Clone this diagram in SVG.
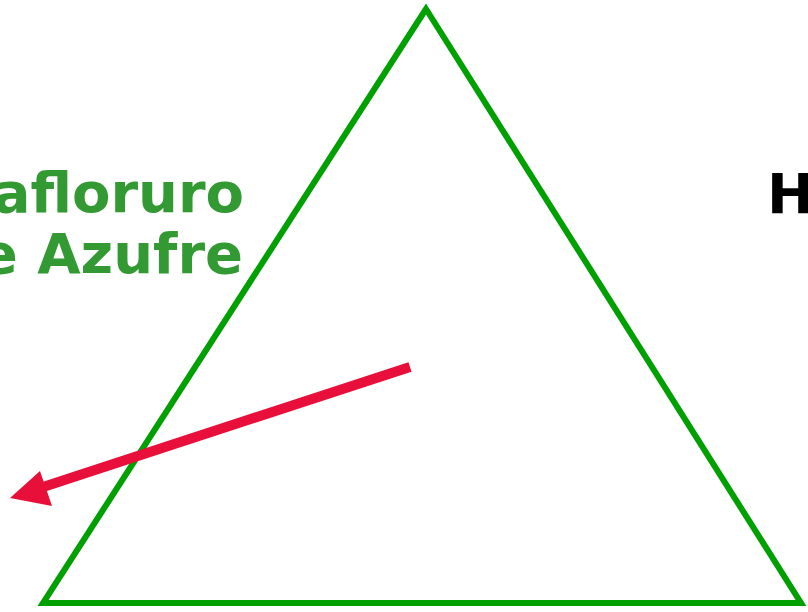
<svg xmlns="http://www.w3.org/2000/svg" width="808" height="612" viewBox="0 0 808 612">
<style>
.lbl{font-family:"DejaVu Sans","Verdana",sans-serif;font-weight:bold;font-size:56px}
.green{fill:#339933}
.black{fill:#000000}
</style>
<rect width="808" height="612" fill="#ffffff"/>
<g id="triangle">
<polygon points="426,9 43,603 801,603" fill="none" stroke="#00a000" stroke-width="6" stroke-linejoin="miter"/>
</g>
<g id="label-sf6">
<text class="lbl green" x="244" y="212" text-anchor="end">afloruro</text>
<text class="lbl green" x="243" y="273" text-anchor="end">e Azufre</text>
</g>
<g id="label-h">
<text class="lbl black" x="767" y="213">H</text>
</g>
<g id="connectors">
<line x1="410" y1="367" x2="40" y2="488" stroke="#e8103a" stroke-width="10"/>
<polygon points="10,498 40,471 52,506" fill="#e8103a"/>
</g>
</svg>
